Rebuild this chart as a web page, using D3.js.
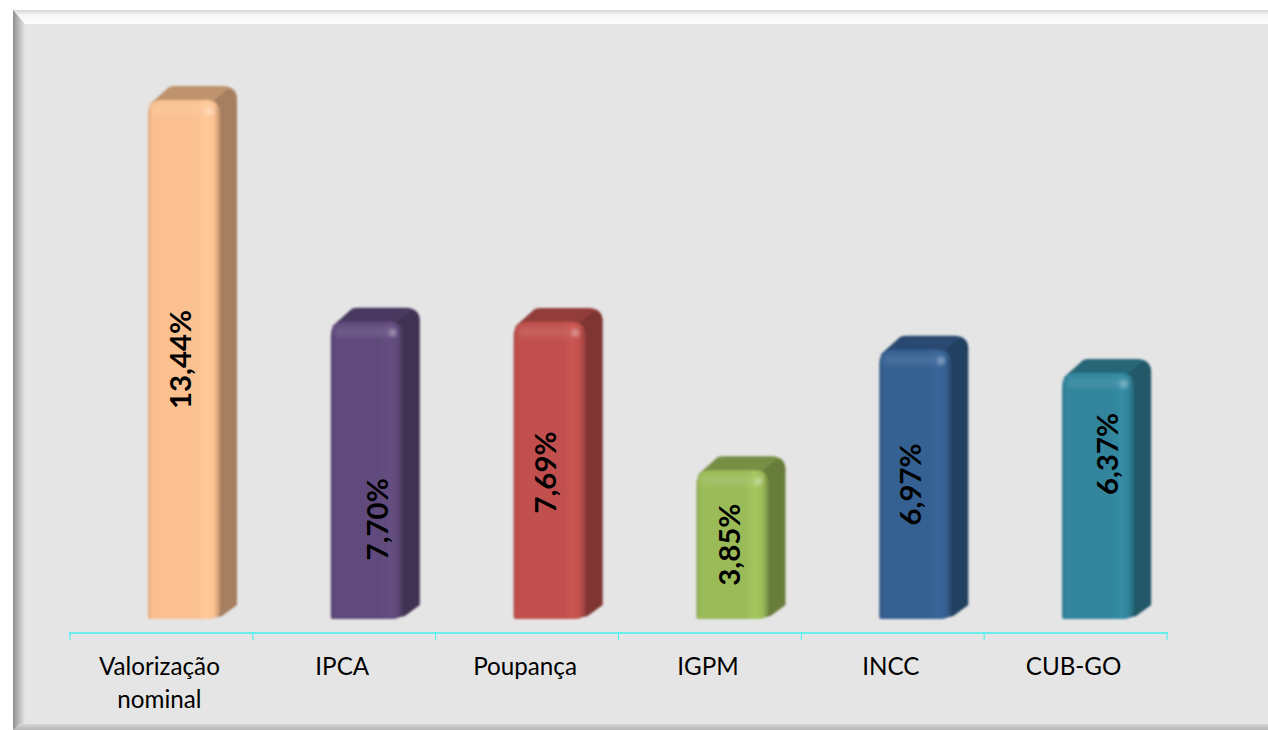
<!DOCTYPE html>
<html>
<head>
<meta charset="utf-8">
<script src="https://cdn.jsdelivr.net/npm/d3@7"></script>
<style>
  html, body { margin: 0; padding: 0; background: #fff; overflow: hidden; }
  svg { display: block; }
  text { font-family: Lato, "Open Sans", sans-serif; fill: #000; }
</style>
</head>
<body>
<svg id="chart" width="1268" height="730"></svg>
<script>
const categories = ["Valorização nominal", "IPCA", "Poupança", "IGPM", "INCC", "CUB-GO"];
const values = [13.44, 7.70, 7.69, 3.85, 6.97, 6.37];
const barColors = ["#fac090", "#604a7b", "#c0504d", "#9bbb59", "#366092", "#31859c"];
// the labels were dragged by hand in the original, so they are not all centred
const labelShiftX = [-3, 11, -4, -3, -4, 10];
const labelShiftY = [0, 49, 2, 0, 0, -42];

const svg = d3.select("#chart");
const defs = svg.append("defs");

// Panel with bevelled frame
const frame = { left: 13, top: 10, right: 1268, bottom: 730, bevel: 12 };

const leftGrad = defs.append("linearGradient").attr("id", "bevelLeft");
leftGrad.append("stop").attr("offset", "0%").attr("stop-color", "#8e8e8e");
leftGrad.append("stop").attr("offset", "45%").attr("stop-color", "#b8b8b8");
leftGrad.append("stop").attr("offset", "100%").attr("stop-color", "#e4e4e4");

const topGrad = defs.append("linearGradient").attr("id", "bevelTop")
  .attr("x1", 0).attr("x2", 0).attr("y1", 0).attr("y2", 1);
topGrad.append("stop").attr("offset", "0%").attr("stop-color", "#d4d4d4");
topGrad.append("stop").attr("offset", "35%").attr("stop-color", "#f6f6f6");
topGrad.append("stop").attr("offset", "100%").attr("stop-color", "#fcfcfc");

const bottomGrad = defs.append("linearGradient").attr("id", "bevelBottom")
  .attr("x1", 0).attr("x2", 0).attr("y1", 0).attr("y2", 1);
bottomGrad.append("stop").attr("offset", "0%").attr("stop-color", "#d6d6d6");
bottomGrad.append("stop").attr("offset", "100%").attr("stop-color", "#b4b4b4");

svg.append("rect")
  .attr("x", frame.left).attr("y", frame.top)
  .attr("width", frame.right - frame.left).attr("height", frame.bottom - frame.top)
  .attr("fill", "#e5e5e5");
svg.append("path")
  .attr("fill", "url(#bevelTop)")
  .attr("d", `M${frame.left},${frame.top}H${frame.right}V${frame.top + frame.bevel + 2}H${frame.left + frame.bevel}Z`);
svg.append("path")
  .attr("fill", "url(#bevelLeft)")
  .attr("d", `M${frame.left},${frame.top}L${frame.left + frame.bevel},${frame.top + frame.bevel + 2}V${frame.bottom - 6}L${frame.left},${frame.bottom}Z`);
svg.append("path")
  .attr("fill", "url(#bevelBottom)")
  .attr("d", `M${frame.left},${frame.bottom}L${frame.left + 6},${frame.bottom - 6}H${frame.right}V${frame.bottom}Z`);

// Scales
const x = d3.scaleBand().domain(categories).range([70, 1167]);
const y = d3.scaleLinear().domain([0, 13.44]).range([619, 100]);

const barOffset = 78;   // the 3D bars sit right of the band start
const frontW = 72;
const depthX = 17;
const depthY = 14;
const radius = 14;

const blur = defs.append("filter").attr("id", "soft");
blur.append("feGaussianBlur").attr("stdDeviation", 0.8);
const bandBlur = defs.append("filter").attr("id", "band")
  .attr("x", "-20%").attr("y", "-50%").attr("width", "140%").attr("height", "200%");
bandBlur.append("feGaussianBlur").attr("stdDeviation", 2.5);
const glowBlur = defs.append("filter").attr("id", "glow");
glowBlur.append("feGaussianBlur").attr("stdDeviation", 2);

// Horizontal shading for each bar front
barColors.forEach((c, i) => {
  const base = d3.rgb(c);
  const g = defs.append("linearGradient").attr("id", `front${i}`);
  g.append("stop").attr("offset", "0%").attr("stop-color", base.darker(0.35));
  g.append("stop").attr("offset", "5%").attr("stop-color", base);
  g.append("stop").attr("offset", "68%").attr("stop-color", base);
  g.append("stop").attr("offset", "82%").attr("stop-color", base.brighter(0.16));
  g.append("stop").attr("offset", "92%").attr("stop-color", base);
  g.append("stop").attr("offset", "100%").attr("stop-color", base.darker(0.75));
});

const bars = svg.selectAll("g.bar")
  .data(categories)
  .join("g")
  .attr("class", "bar")
  .attr("filter", "url(#soft)");

// Top and side faces (whole silhouette behind the front)
bars.append("path")
  .attr("fill", (d, i) => d3.rgb(barColors[i]).darker(0.75))
  .attr("d", (d, i) => {
    const l = x(d) + barOffset, t = y(values[i]), r = l + frontW;
    return `M${l + 1},${t + 5}L${l + 21},${t - depthY + 1}Q${l + 24},${t - depthY} ${l + 27},${t - depthY}` +
      `H${r + depthX - radius}Q${r + depthX},${t - depthY} ${r + depthX},${t - depthY + radius}L${r},${t + radius}Z`;
  });
bars.append("path")
  .attr("fill", (d, i) => d3.rgb(barColors[i]).darker(1.15))
  .attr("d", (d, i) => {
    const l = x(d) + barOffset, t = y(values[i]), r = l + frontW, b = y(0);
    return `M${r - 8},${t + 2}L${r + depthX - 9},${t - depthY + 3}Q${r + depthX},${t - depthY + 3} ${r + depthX},${t - depthY + radius}` +
      `V${b - depthY}L${r + 2},${b - 3}L${r - 12},${b}Z`;
  });

// Front face
const frontPath = (d, i) => {
  const l = x(d) + barOffset, t = y(values[i]), r = l + frontW, b = y(0);
  return `M${l},${b - 2}V${t + radius}Q${l},${t} ${l + radius},${t}H${r - radius}Q${r},${t} ${r},${t + radius}` +
    `V${b - 6}Q${r - 2},${b} ${r - 12},${b}H${l + 2}Q${l},${b} ${l},${b - 2}Z`;
};
bars.append("path")
  .attr("fill", (d, i) => `url(#front${i})`)
  .attr("d", frontPath);

// Soft lighter band along the top of the front
bars.append("rect")
  .attr("x", d => x(d) + barOffset + 5)
  .attr("y", (d, i) => y(values[i]) + 5)
  .attr("width", frontW - 12)
  .attr("height", 10)
  .attr("fill", "#fff")
  .attr("opacity", 0.09)
  .attr("filter", "url(#band)");

// Specular spot near the top right corner
bars.append("circle")
  .attr("cx", d => x(d) + barOffset + frontW - 10)
  .attr("cy", (d, i) => y(values[i]) + 11)
  .attr("r", 3.5)
  .attr("fill", "#fff")
  .attr("opacity", 0.4)
  .attr("filter", "url(#glow)");

// Category axis
const axis = svg.append("g")
  .attr("transform", "translate(0,633)")
  .call(d3.axisBottom(x).tickSize(0).tickFormat(""));
axis.select(".domain").remove();
axis.append("line")
  .attr("x1", x.range()[0] - 1).attr("x2", x.range()[1] + 1)
  .attr("stroke", "#3ff0f0").attr("stroke-width", 1.5);
axis.selectAll("line.edge")
  .data(categories.concat("end"))
  .join("line")
  .attr("class", "edge")
  .attr("x1", (d, i) => x.range()[0] + i * x.step())
  .attr("x2", (d, i) => x.range()[0] + i * x.step())
  .attr("y1", 0).attr("y2", 7)
  .attr("stroke", "#3ff0f0").attr("stroke-width", 1);

// Category labels, wrapped on the space of the long one
const catLabels = svg.selectAll("text.cat")
  .data(categories)
  .join("text")
  .attr("class", "cat")
  .attr("text-anchor", "middle")
  .attr("font-size", 24.2);
catLabels.each(function (d) {
  const lines = d.split(" ");
  d3.select(this).selectAll("tspan")
    .data(lines)
    .join("tspan")
    .attr("x", x(d) + x.bandwidth() / 2 - 2)
    .attr("y", (l, i) => 675 + i * 33)
    .text(l => l);
});

// Value labels
svg.selectAll("text.val")
  .data(categories)
  .join("text")
  .attr("class", "val")
  .attr("text-anchor", "middle")
  .attr("font-size", 29.4)
  .attr("font-weight", 700)
  .attr("transform", (d, i) => {
    const cx = x(d) + barOffset + frontW / 2 + labelShiftX[i] + 10;
    const cy = (y(values[i]) + y(0)) / 2 + labelShiftY[i];
    return `translate(${cx},${cy}) rotate(-90)`;
  })
  .text((d, i) => d3.format(".2f")(values[i]).replace(".", ",") + "%");
</script>
</body>
</html>
